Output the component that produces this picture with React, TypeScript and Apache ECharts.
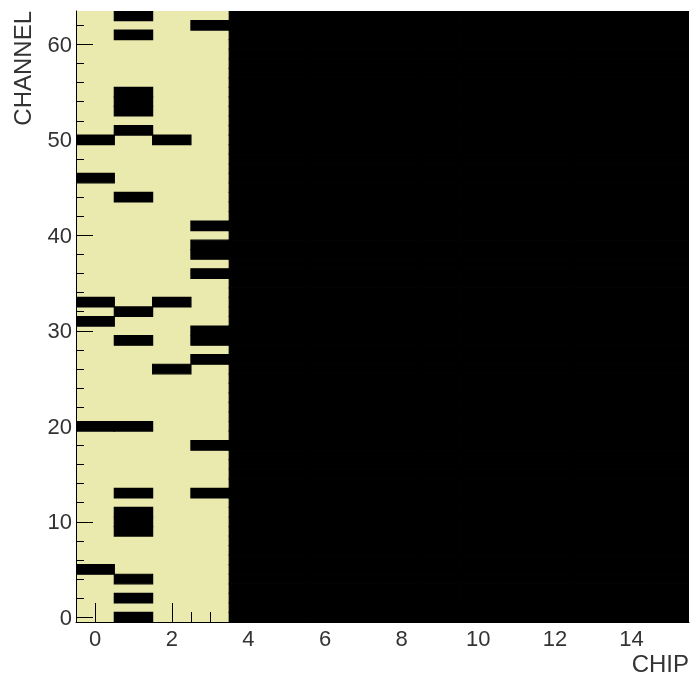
import React, { useEffect, useRef } from "react";
import * as echarts from "echarts";

// ---- data ----
const chips = [0, 1, 2, 3, 4, 5, 6, 7, 8, 9, 10, 11, 12, 13, 14, 15];
const channels = Array.from({ length: 64 }, (_, i) => i);
const liveChips = [0, 1, 2, 3];
const badChip0 = [5, 20, 31, 33, 46, 50];
const badChip1 = [0, 2, 4, 9, 10, 11, 13, 20, 29, 32, 44, 51, 53, 54, 55, 61, 63];
const badChip2 = [26, 33, 50];
const badChip3 = [13, 18, 27, 29, 30, 36, 38, 39, 41, 62];
const xTickLabels = [0, 2, 4, 6, 8, 10, 12, 14];
const xMinorTicks = [0.5, 1, 1.5, 2.5, 3, 3.5, 4.5, 5, 5.5, 6.5, 7, 7.5, 8.5, 9, 9.5, 10.5, 11, 11.5, 12.5, 13, 13.5, 14.5, 15];
const yTickLabels = [0, 10, 20, 30, 40, 50, 60];
const yMinorTicks = [2, 4, 6, 8, 12, 14, 16, 18, 22, 24, 26, 28, 32, 34, 36, 38, 42, 44, 46, 48, 52, 54, 56, 58, 62];

const badByChip: Record<number, number[]> = { 0: badChip0, 1: badChip1, 2: badChip2, 3: badChip3 };

const GOOD = "#eaeaae";
const BAD = "#000000";

export default function App() {
  const ref = useRef<HTMLDivElement>(null);
  useEffect(() => {
    if (!ref.current) return;
    const chart = echarts.init(ref.current, undefined, { renderer: "svg" });
    const cells: number[][] = [];
    chips.forEach((c) => {
      channels.forEach((ch) => {
        const live = liveChips.includes(c);
        const ok = live && !(badByChip[c] || []).includes(ch);
        cells.push([c, ch, ok ? 1 : 0]);
      });
    });
    const labelStyle = { fontFamily: "Liberation Sans, Arial, sans-serif", fontSize: 22, color: "#333" };
    chart.setOption({
      animation: false,
      grid: { left: 76, right: 1, top: 11, bottom: 53 },
      xAxis: [
        {
          type: "value", min: -0.5, max: 15.5, z: 10, position: "bottom",
          axisLine: { show: true, onZero: false, lineStyle: { color: "#000", width: 1 } },
          axisTick: { show: true, inside: true, length: 19, customValues: xTickLabels, lineStyle: { color: "#000", width: 1 } },
          axisLabel: { show: true, customValues: xTickLabels, margin: 5, ...labelStyle },
          splitLine: { show: false },
          name: "CHIP", nameLocation: "end", nameGap: 0,
          nameTextStyle: { fontFamily: "Liberation Sans, Arial, sans-serif", fontSize: 24, color: "#333", align: "right", verticalAlign: "top", padding: [29, 0, 0, 0] },
        },
        {
          type: "value", min: -0.5, max: 15.5, z: 10, position: "bottom",
          axisLine: { show: false, onZero: false },
          axisTick: { show: true, inside: true, length: 10, customValues: xMinorTicks, lineStyle: { color: "#000", width: 1 } },
          axisLabel: { show: false },
          splitLine: { show: false },
        },
      ],
      yAxis: [
        {
          type: "value", min: -0.5, max: 63.5, z: 10, position: "left",
          axisLine: { show: true, onZero: false, lineStyle: { color: "#000", width: 1 } },
          axisTick: { show: true, inside: true, length: 17, customValues: yTickLabels, lineStyle: { color: "#000", width: 1 } },
          axisLabel: { show: true, customValues: yTickLabels, margin: 4, ...labelStyle },
          splitLine: { show: false },
        },
        {
          type: "value", min: -0.5, max: 63.5, z: 10, position: "left",
          axisLine: { show: false, onZero: false },
          axisTick: { show: true, inside: true, length: 8, customValues: yMinorTicks, lineStyle: { color: "#000", width: 1 } },
          axisLabel: { show: false },
          splitLine: { show: false },
        },
      ],
      graphic: [
        {
          type: "text", x: 22, y: 11, rotation: Math.PI / 2,
          style: { text: "CHANNEL", align: "right", verticalAlign: "middle", fontFamily: "Liberation Sans, Arial, sans-serif", fontSize: 24, fill: "#333" },
        },
      ],
      series: [
        {
          type: "custom",
          xAxisIndex: 0, yAxisIndex: 0,
          clip: true,
          data: cells,
          renderItem: (params: any, api: any) => {
            const x = api.value(0), y = api.value(1), v = api.value(2);
            const p0 = api.coord([x - 0.5, y + 0.5]);
            const p1 = api.coord([x + 0.5, y - 0.5]);
            const col = v ? GOOD : BAD;
            return {
              type: "rect",
              z2: v ? 0 : 1,
              shape: { x: p0[0], y: p0[1], width: p1[0] - p0[0], height: p1[1] - p0[1] },
              style: { fill: col, stroke: col, lineWidth: 1.2 },
            };
          },
        },
      ],
    });
    return () => chart.dispose();
  }, []);
  return <div ref={ref} style={{ position: "fixed", left: 0, top: 0, width: 692, height: 675 }} />;
}
